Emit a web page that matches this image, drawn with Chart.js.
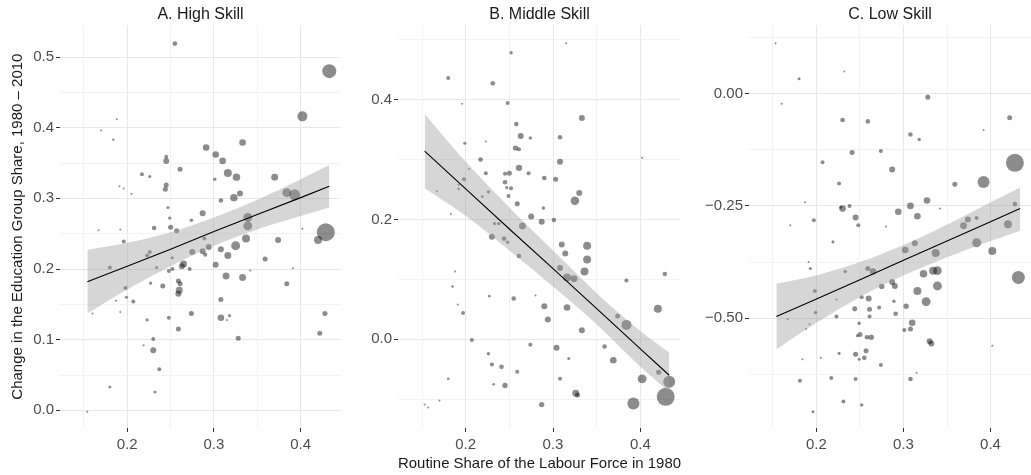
<!DOCTYPE html>
<html>
<head>
<meta charset="utf-8">
<script src="https://cdn.jsdelivr.net/npm/chart.js@4.4.1/dist/chart.umd.min.js"></script>
<style>
html, body { margin: 0; padding: 0; background: #fff; width: 1031px; height: 475px; overflow: hidden; }
canvas { position: absolute; top: 0; }
</style>
</head>
<body>
<canvas id="chartA" width="350" height="475" style="left:0px;width:350px;height:475px"></canvas>
<canvas id="chartB" width="340" height="475" style="left:350px;width:340px;height:475px"></canvas>
<canvas id="chartC" width="350" height="475" style="left:690px;width:350px;height:475px"></canvas>
<script>
// three facets: change in education group share vs routine share 1980

var fontFam = '"Liberation Sans", Arial, Helvetica, sans-serif';

// shared x axis
var xTicks = [0.15, 0.2, 0.25, 0.3, 0.35, 0.4];
var xTickLabels = ['', '0.2', '', '0.3', '', '0.4'];
var xTitle = 'Routine Share of the Labour Force in 1980';
var yTitle = 'Change in the Education Group Share, 1980 \u2013 2010';

// y ticks per panel
var yTicksA = [0, 0.05, 0.1, 0.15, 0.2, 0.25, 0.3, 0.35, 0.4, 0.45, 0.5];
var yTickLabelsA = ['0.0', '', '0.1', '', '0.2', '', '0.3', '', '0.4', '', '0.5'];
var yTicksB = [-0.1, 0, 0.1, 0.2, 0.3, 0.4, 0.5];
var yTickLabelsB = ['', '0.0', '', '0.2', '', '0.4', ''];
var yTicksC = [-0.625, -0.5, -0.375, -0.25, -0.125, 0, 0.125];
var yTickLabelsC = ['', '\u22120.50', '', '\u22120.25', '', '0.00', ''];

// A. High Skill - regions
var xA = [0.255, 0.433, 0.402, 0.188, 0.170, 0.184, 0.291, 0.333, 0.302, 0.310, 0.245, 0.245, 0.261, 0.217, 0.226, 0.316, 0.326, 0.301, 0.370, 0.245,
          0.244, 0.191, 0.196, 0.205, 0.330, 0.323, 0.308, 0.384, 0.393, 0.247, 0.287, 0.249, 0.274, 0.339, 0.339, 0.231, 0.250, 0.257, 0.167, 0.192,
          0.402, 0.429, 0.420, 0.374, 0.337, 0.325, 0.308, 0.316, 0.294, 0.287, 0.290, 0.275, 0.289, 0.196, 0.226, 0.223, 0.252, 0.234, 0.180, 0.265,
          0.263, 0.302, 0.252, 0.248, 0.272, 0.359, 0.342, 0.391, 0.314, 0.333, 0.384, 0.259, 0.261, 0.260, 0.259, 0.241, 0.227, 0.198, 0.199, 0.207,
          0.187, 0.192, 0.160, 0.308, 0.274, 0.308, 0.318, 0.315, 0.248, 0.223, 0.259, 0.428, 0.422, 0.328, 0.230, 0.230, 0.219, 0.237, 0.180, 0.232, 0.154];
var yA = [0.519, 0.480, 0.416, 0.412, 0.396, 0.383, 0.372, 0.379, 0.362, 0.353, 0.359, 0.353, 0.341, 0.334, 0.331, 0.336, 0.330, 0.327, 0.330, 0.319,
          0.313, 0.317, 0.314, 0.306, 0.307, 0.301, 0.297, 0.308, 0.305, 0.287, 0.279, 0.272, 0.269, 0.273, 0.261, 0.258, 0.259, 0.254, 0.255, 0.256,
          0.257, 0.252, 0.241, 0.241, 0.243, 0.233, 0.228, 0.219, 0.231, 0.225, 0.220, 0.224, 0.243, 0.239, 0.224, 0.219, 0.216, 0.202, 0.202, 0.207,
          0.204, 0.206, 0.200, 0.197, 0.200, 0.214, 0.198, 0.201, 0.190, 0.188, 0.179, 0.183, 0.179, 0.170, 0.165, 0.176, 0.180, 0.173, 0.160, 0.154,
          0.155, 0.139, 0.137, 0.157, 0.137, 0.131, 0.134, 0.128, 0.131, 0.128, 0.115, 0.137, 0.109, 0.102, 0.101, 0.085, 0.092, 0.058, 0.033, 0.026, -0.002];
var wA = [5.3, 49, 25, 1, 1, 1.4, 11, 11, 11, 11, 4, 9, 6.3, 4, 2.3, 16, 14, 2.9, 12, 6.3,
          6.3, 1, 1, 1, 9, 14, 5.3, 20, 30, 2.3, 9, 2.9, 2.9, 20, 20, 5.3, 6.3, 6.3, 1, 1,
          1, 81, 16, 9, 16, 20, 9, 12, 9, 9, 4, 9, 4, 4, 4, 4, 2.3, 2.3, 4, 12,
          9, 9, 4, 4, 4, 6.3, 1, 1, 12, 12, 6.3, 6.3, 6.3, 12, 9, 6.3, 2.3, 4, 2.3, 4,
          1, 1, 1, 6.3, 6.3, 11, 2.3, 1, 4, 2.3, 6.3, 6.3, 6.3, 6.3, 4, 9, 1, 4, 2.3, 2.3, 1];

// B. Middle Skill - regions
var xB = [0.315, 0.252, 0.180, 0.231, 0.196, 0.248, 0.333, 0.258, 0.263, 0.274, 0.308, 0.199, 0.223, 0.257, 0.261, 0.308, 0.402, 0.217, 0.204, 0.223,
          0.245, 0.250, 0.261, 0.272, 0.290, 0.303, 0.198, 0.192, 0.192, 0.167, 0.226, 0.219, 0.245, 0.247, 0.252, 0.249, 0.259, 0.330, 0.325, 0.289,
          0.183, 0.275, 0.287, 0.301, 0.233, 0.238, 0.265, 0.230, 0.244, 0.248, 0.261, 0.310, 0.314, 0.339, 0.339, 0.336, 0.308, 0.316, 0.324, 0.188,
          0.185, 0.191, 0.197, 0.227, 0.255, 0.280, 0.290, 0.316, 0.294, 0.333, 0.384, 0.428, 0.420, 0.374, 0.384, 0.207, 0.274, 0.304, 0.359, 0.226,
          0.318, 0.369, 0.230, 0.241, 0.259, 0.180, 0.308, 0.402, 0.421, 0.433, 0.232, 0.245, 0.326, 0.328, 0.170, 0.153, 0.157, 0.287, 0.392, 0.429];
var yB = [0.494, 0.478, 0.436, 0.427, 0.393, 0.394, 0.369, 0.359, 0.339, 0.336, 0.337, 0.327, 0.330, 0.319, 0.317, 0.296, 0.303, 0.300, 0.284, 0.277,
          0.276, 0.277, 0.286, 0.277, 0.269, 0.267, 0.267, 0.258, 0.251, 0.247, 0.246, 0.238, 0.262, 0.253, 0.252, 0.239, 0.226, 0.244, 0.231, 0.219,
          0.209, 0.205, 0.196, 0.199, 0.193, 0.193, 0.189, 0.171, 0.168, 0.162, 0.139, 0.158, 0.143, 0.156, 0.133, 0.113, 0.119, 0.103, 0.101, 0.113,
          0.088, 0.058, 0.044, 0.072, 0.068, 0.073, 0.055, 0.053, 0.033, 0.015, 0.098, 0.109, 0.051, 0.039, 0.024, -0.001, -0.009, -0.014, -0.012, -0.024,
          -0.032, -0.035, -0.042, -0.046, -0.054, -0.066, -0.066, -0.066, -0.055, -0.071, -0.075, -0.077, -0.090, -0.093, -0.102, -0.109, -0.114, -0.109, -0.107, -0.096];
var wB = [1, 2.9, 4, 5.3, 1, 4, 9, 5.3, 9, 2.9, 5.3, 2.3, 1, 7.3, 4, 9, 1, 5.3, 1, 4,
          4, 6.3, 10.2, 4, 5.3, 6.3, 4, 1, 1.7, 1, 2.9, 1.7, 5.3, 2.3, 4, 4, 6.3, 9, 18.5, 2.9,
          1, 9, 9, 5.3, 2.9, 2.9, 12, 9, 5.3, 2.9, 5.3, 9, 9, 16, 16, 16, 9, 16, 12, 1,
          1.7, 1, 4, 1.7, 5.3, 1, 9, 11, 9, 9, 4, 5.3, 16, 6.3, 25, 4, 4, 9, 5.3, 2.9,
          2.3, 11, 4, 5.3, 4, 1.7, 4, 20, 6.3, 36, 1.7, 7.3, 12, 6.3, 1, 1, 1, 7.3, 36, 81];

// C. Low Skill - regions
var xC = [0.153, 0.180, 0.232, 0.160, 0.328, 0.230, 0.259, 0.422, 0.392, 0.308, 0.318, 0.241, 0.274, 0.207, 0.428, 0.287, 0.392, 0.359, 0.226, 0.327,
          0.187, 0.308, 0.294, 0.230, 0.228, 0.238, 0.342, 0.245, 0.316, 0.197, 0.248, 0.170, 0.280, 0.428, 0.420, 0.374, 0.384, 0.369, 0.384, 0.402,
          0.337, 0.432, 0.334, 0.339, 0.339, 0.326, 0.323, 0.219, 0.313, 0.302, 0.191, 0.193, 0.233, 0.259, 0.265, 0.287, 0.290, 0.316, 0.198, 0.275,
          0.252, 0.260, 0.289, 0.223, 0.244, 0.261, 0.272, 0.303, 0.199, 0.261, 0.291, 0.223, 0.167, 0.249, 0.310, 0.192, 0.188, 0.301, 0.308, 0.250,
          0.247, 0.258, 0.263, 0.330, 0.332, 0.402, 0.257, 0.226, 0.245, 0.255, 0.249, 0.184, 0.205, 0.274, 0.181, 0.217, 0.245, 0.308, 0.315, 0.231,
          0.252, 0.196];
var yC = [0.112, 0.033, 0.049, -0.023, -0.008, -0.059, -0.062, -0.054, -0.081, -0.091, -0.102, -0.131, -0.128, -0.153, -0.154, -0.169, -0.197, -0.202, -0.200, -0.238,
          -0.242, -0.250, -0.263, -0.256, -0.253, -0.250, -0.256, -0.276, -0.273, -0.282, -0.293, -0.293, -0.296, -0.246, -0.291, -0.280, -0.277, -0.294, -0.332, -0.350,
          -0.355, -0.409, -0.394, -0.394, -0.428, -0.463, -0.401, -0.330, -0.333, -0.348, -0.375, -0.389, -0.396, -0.389, -0.396, -0.419, -0.428, -0.439, -0.439, -0.429,
          -0.453, -0.456, -0.462, -0.458, -0.479, -0.480, -0.476, -0.473, -0.487, -0.496, -0.490, -0.496, -0.502, -0.511, -0.510, -0.513, -0.524, -0.526, -0.524, -0.536,
          -0.539, -0.542, -0.542, -0.551, -0.556, -0.561, -0.572, -0.578, -0.580, -0.588, -0.591, -0.591, -0.588, -0.604, -0.639, -0.633, -0.635, -0.635, -0.621, -0.685,
          -0.693, -0.708];
var wC = [1, 2.3, 1, 1, 6.3, 5.3, 5.3, 6.3, 1, 5.3, 2.9, 6.3, 4, 4, 81, 9, 36, 6.3, 4, 11,
          1, 11, 11, 11, 2.3, 4, 1, 9, 11, 4, 4, 1, 1, 5.3, 16, 9, 4, 12, 20, 16,
          16, 42, 16, 18.5, 20, 20, 14, 2.3, 9, 11, 1, 2.3, 2.9, 6.3, 11, 9, 9, 16, 4, 7.3,
          4, 9, 2.9, 1, 6.3, 6.3, 4, 7.3, 2.9, 4, 5.3, 4, 1, 2.9, 11, 1, 1, 4, 6.3, 6.3,
          2.3, 5.3, 7.3, 9, 9, 1, 6.3, 2.3, 6.3, 5.3, 2.3, 1, 1, 4, 4, 4, 4, 5.3, 1, 4,
          2.9, 2.3];

// fitted line and confidence band
var bandXA = [0.154, 0.2, 0.25, 0.3, 0.35, 0.4, 0.433];
var fitA = [0.182, 0.204, 0.228, 0.253, 0.277, 0.301, 0.317];
var upperA = [0.227, 0.237, 0.252, 0.273, 0.298, 0.327, 0.347];
var lowerA = [0.137, 0.171, 0.204, 0.233, 0.256, 0.275, 0.287];

var bandXB = [0.153, 0.2, 0.25, 0.3, 0.35, 0.4, 0.433];
var fitB = [0.314, 0.251, 0.184, 0.118, 0.051, -0.016, -0.060];
var upperB = [0.376, 0.296, 0.220, 0.148, 0.077, 0.014, -0.022];
var lowerB = [0.252, 0.206, 0.148, 0.088, 0.025, -0.046, -0.088];

var bandXC = [0.154, 0.2, 0.25, 0.3, 0.35, 0.4, 0.434];
var fitC = [-0.496, -0.457, -0.414, -0.371, -0.328, -0.285, -0.256];
var upperC = [-0.423, -0.404, -0.375, -0.337, -0.292, -0.242, -0.209];
var lowerC = [-0.569, -0.510, -0.453, -0.405, -0.364, -0.328, -0.305];

var xMin = 0.1225;
var xMax = 0.4465;

function toPoints(xs, ys) {
    var out = [];
    for (var i = 0; i < xs.length; i++) {
        out.push({ x: xs[i], y: ys[i] });
    }
    return out;
}

function makePanel(canvasId, p) {
    var tickStyle = { color: '#4d4d4d', font: { family: fontFam, size: 15 } };

    return new Chart(document.getElementById(canvasId), {
        type: 'scatter',
        data: {
            datasets: [
                {
                    type: 'line',
                    data: toPoints(p.bandX, p.fit),
                    borderColor: '#000',
                    borderWidth: 1.1,
                    pointRadius: 0,
                    fill: false
                },
                {
                    type: 'line',
                    data: toPoints(p.bandX, p.upper),
                    borderColor: 'rgba(0,0,0,0)',
                    borderWidth: 0,
                    pointRadius: 0,
                    cubicInterpolationMode: 'monotone',
                    fill: '+1',
                    backgroundColor: 'rgba(153,153,153,0.4)'
                },
                {
                    type: 'line',
                    data: toPoints(p.bandX, p.lower),
                    borderColor: 'rgba(0,0,0,0)',
                    borderWidth: 0,
                    pointRadius: 0,
                    cubicInterpolationMode: 'monotone',
                    fill: false
                },
                {
                    data: toPoints(p.x, p.y),
                    pointRadius: function(ctx) { return Math.sqrt(p.w[ctx.dataIndex]); },
                    pointBackgroundColor: 'rgba(0,0,0,0.45)',
                    pointBorderWidth: 0
                }
            ]
        },
        options: {
            responsive: false,
            animation: false,
            devicePixelRatio: 1,
            events: [],
            layout: { padding: { left: 0, right: p.padRight, top: 0, bottom: 0 } },
            plugins: {
                legend: { display: false },
                tooltip: { enabled: false },
                title: {
                    display: true,
                    text: p.title,
                    fullSize: false,
                    color: '#1a1a1a',
                    font: { family: fontFam, size: 16, weight: 'normal' },
                    padding: { top: 5, bottom: 1 }
                }
            },
            scales: {
                x: {
                    type: 'linear',
                    min: xMin,
                    max: xMax,
                    afterBuildTicks: function(axis) {
                        axis.ticks = xTicks.map(function(v) { return { value: v }; });
                    },
                    afterFit: function(axis) { axis.height = 47; },
                    ticks: {
                        color: tickStyle.color,
                        font: tickStyle.font,
                        padding: 4,
                        maxRotation: 0,
                        autoSkip: false,
                        callback: function(v, i) { return xTickLabels[i]; }
                    },
                    grid: {
                        color: function(ctx) { return xTickLabels[ctx.index] ? '#e8e8e8' : '#f3f3f3'; },
                        lineWidth: 1,
                        tickLength: 4,
                        tickColor: function(ctx) { return xTickLabels[ctx.index] ? '#333' : 'rgba(0,0,0,0)'; }
                    },
                    border: { display: false },
                    title: {
                        display: p.showXTitle,
                        text: xTitle,
                        color: '#1a1a1a',
                        font: { family: fontFam, size: 15 },
                        padding: { top: 0, bottom: 2 }
                    }
                },
                y: {
                    type: 'linear',
                    min: p.yMin,
                    max: p.yMax,
                    afterBuildTicks: function(axis) {
                        axis.ticks = p.yTicks.map(function(v) { return { value: v }; });
                    },
                    afterFit: function(axis) { axis.width = p.yWidth; },
                    ticks: {
                        color: tickStyle.color,
                        font: tickStyle.font,
                        padding: 2,
                        autoSkip: false,
                        callback: function(v, i) { return p.yTickLabels[i]; }
                    },
                    grid: {
                        color: function(ctx) { return p.yTickLabels[ctx.index] ? '#e8e8e8' : '#f3f3f3'; },
                        lineWidth: 1,
                        tickLength: 4,
                        tickColor: function(ctx) { return p.yTickLabels[ctx.index] ? '#333' : 'rgba(0,0,0,0)'; }
                    },
                    border: { display: false },
                    title: {
                        display: p.showYTitle,
                        text: yTitle,
                        color: '#1a1a1a',
                        font: { family: fontFam, size: 15 },
                        padding: { top: 9, bottom: 0 }
                    }
                }
            }
        }
    });
}

makePanel('chartA', {
    title: 'A. High Skill', x: xA, y: yA, w: wA,
    bandX: bandXA, fit: fitA, upper: upperA, lower: lowerA,
    yMin: -0.025, yMax: 0.545, yTicks: yTicksA, yTickLabels: yTickLabelsA,
    yWidth: 60, padRight: 3, showXTitle: false, showYTitle: true
});

makePanel('chartB', {
    title: 'B. Middle Skill', x: xB, y: yB, w: wB,
    bandX: bandXB, fit: fitB, upper: upperB, lower: lowerB,
    yMin: -0.148, yMax: 0.524, yTicks: yTicksB, yTickLabels: yTickLabelsB,
    yWidth: 48, padRight: 5, showXTitle: true, showYTitle: false
});

makePanel('chartC', {
    title: 'C. Low Skill', x: xC, y: yC, w: wC,
    bandX: bandXC, fit: fitC, upper: upperC, lower: lowerC,
    yMin: -0.744, yMax: 0.152, yTicks: yTicksC, yTickLabels: yTickLabelsC,
    yWidth: 59, padRight: 4, showXTitle: false, showYTitle: false
});
</script>
</body>
</html>
